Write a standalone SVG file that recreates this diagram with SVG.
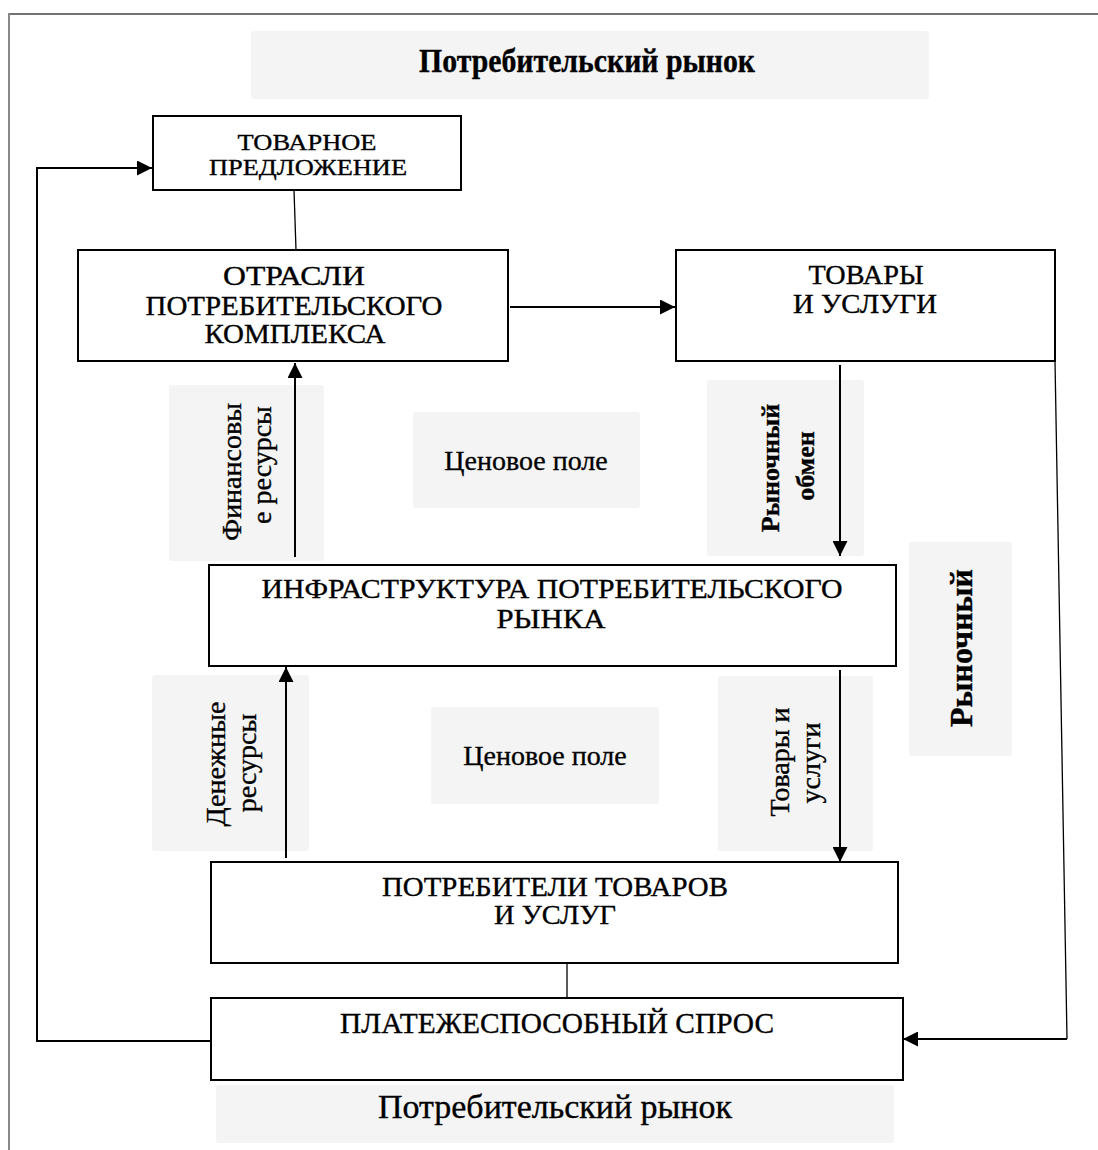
<svg xmlns="http://www.w3.org/2000/svg" width="1098" height="1150" viewBox="0 0 1098 1150">
<style>
.box{fill:#fff;stroke:#000;stroke-width:2}
.lbl{fill:#f4f4f4}
.t{font-family:"Liberation Serif","Times New Roman",serif;fill:#000;stroke:#000;stroke-width:0.35}
.c{text-anchor:middle}
.ln{fill:none;stroke:#000;stroke-width:2}
.thin{fill:none;stroke:#000;stroke-width:1.3}
</style>
<defs>
<marker id="ah" viewBox="0 0 15 15" refX="15" refY="7.5" markerWidth="15" markerHeight="15" markerUnits="userSpaceOnUse" orient="auto">
<path d="M0,0 L15,7.5 L0,15 z" fill="#000"/>
</marker>
</defs>
<rect width="1098" height="1150" fill="#fff"/>
<g id="frame">
<line x1="9" y1="14" x2="1098" y2="14" stroke="#444" stroke-width="1.6"/>
<line x1="9" y1="13" x2="9" y2="1150" stroke="#888" stroke-width="2"/>
</g>
<g id="title-top">
<rect class="lbl" x="251" y="31" width="678" height="68" rx="3"/>
<text class="t c" x="587" y="72" font-size="33" font-weight="bold" textLength="336" lengthAdjust="spacingAndGlyphs">Потребительский рынок</text>
</g>
<g id="labels">
<g id="lbl-fin">
<rect class="lbl" x="169" y="385" width="155" height="176" rx="3"/>
<text class="t c" font-size="28" transform="translate(241,472) rotate(-90)">Финансовы</text>
<text class="t c" font-size="28" transform="translate(271,465) rotate(-90)">е ресурсы</text>
</g>
<g id="lbl-price1">
<rect class="lbl" x="413" y="412" width="227" height="96" rx="3"/>
<text class="t c" x="526" y="470" font-size="28">Ценовое поле</text>
</g>
<g id="lbl-exch">
<rect class="lbl" x="707" y="380" width="157" height="176" rx="3"/>
<text class="t c" font-size="26" font-weight="bold" transform="translate(779,468) rotate(-90)">Рыночный</text>
<text class="t c" font-size="26" font-weight="bold" transform="translate(814,466) rotate(-90)">обмен</text>
</g>
<g id="lbl-market">
<rect class="lbl" x="909" y="542" width="103" height="214" rx="3"/>
<text class="t c" font-size="32" font-weight="bold" transform="translate(972,648) rotate(-90)">Рыночный</text>
</g>
<g id="lbl-money">
<rect class="lbl" x="152" y="675" width="157" height="176" rx="3"/>
<text class="t c" font-size="28" transform="translate(225,764) rotate(-90)">Денежные</text>
<text class="t c" font-size="28" transform="translate(256,763) rotate(-90)">ресурсы</text>
</g>
<g id="lbl-price2">
<rect class="lbl" x="431" y="707" width="228" height="97" rx="3"/>
<text class="t c" x="545" y="765" font-size="28">Ценовое поле</text>
</g>
<g id="lbl-goods">
<rect class="lbl" x="718" y="676" width="155" height="175" rx="3"/>
<text class="t c" font-size="28" transform="translate(789,762) rotate(-90)">Товары и</text>
<text class="t c" font-size="28" transform="translate(820,763) rotate(-90)">услуги</text>
</g>
</g>
<g id="connectors">
<polyline class="ln" points="210,1041 37,1041 37,168 152,168" marker-end="url(#ah)"/>
<line class="thin" x1="294" y1="190" x2="296" y2="250"/>
<line class="ln" x1="510" y1="307" x2="675" y2="307" marker-end="url(#ah)"/>
<polyline class="thin" points="1055,361 1067,1039"/>
<line class="ln" x1="1067" y1="1039" x2="903" y2="1039" marker-end="url(#ah)"/>
<line class="ln" x1="295" y1="557" x2="295" y2="363" marker-end="url(#ah)"/>
<line class="ln" x1="840" y1="365" x2="840" y2="556" marker-end="url(#ah)"/>
<line class="ln" x1="286" y1="858" x2="286" y2="667" marker-end="url(#ah)"/>
<line class="ln" x1="840" y1="670" x2="840" y2="862" marker-end="url(#ah)"/>
<line class="thin" x1="567" y1="963" x2="567" y2="998"/>
</g>
<g id="n-offer">
<rect class="box" x="153" y="116" width="308" height="74"/>
<text class="t c" x="307" y="150" font-size="24" textLength="139" lengthAdjust="spacingAndGlyphs">ТОВАРНОЕ</text>
<text class="t c" x="308" y="175" font-size="24" textLength="198" lengthAdjust="spacingAndGlyphs">ПРЕДЛОЖЕНИЕ</text>
</g>
<g id="n-industry">
<rect class="box" x="78" y="250" width="430" height="111"/>
<text class="t c" x="294" y="285" font-size="27" textLength="142" lengthAdjust="spacingAndGlyphs">ОТРАСЛИ</text>
<text class="t c" x="294" y="315" font-size="27" textLength="297" lengthAdjust="spacingAndGlyphs">ПОТРЕБИТЕЛЬСКОГО</text>
<text class="t c" x="295" y="343" font-size="27" textLength="181" lengthAdjust="spacingAndGlyphs">КОМПЛЕКСА</text>
</g>
<g id="n-goods">
<rect class="box" x="676" y="250" width="379" height="111"/>
<text class="t c" x="866" y="284" font-size="27" textLength="115" lengthAdjust="spacingAndGlyphs">ТОВАРЫ</text>
<text class="t c" x="865" y="313" font-size="27" textLength="144" lengthAdjust="spacingAndGlyphs">И УСЛУГИ</text>
</g>
<g id="n-infra">
<rect class="box" x="209" y="565" width="687" height="101"/>
<text class="t c" x="552" y="598" font-size="27" textLength="581" lengthAdjust="spacingAndGlyphs">ИНФРАСТРУКТУРА ПОТРЕБИТЕЛЬСКОГО</text>
<text class="t c" x="551" y="628" font-size="27" textLength="109" lengthAdjust="spacingAndGlyphs">РЫНКА</text>
</g>
<g id="n-consumers">
<rect class="box" x="211" y="862" width="687" height="101"/>
<text class="t c" x="555" y="896" font-size="27" textLength="346" lengthAdjust="spacingAndGlyphs">ПОТРЕБИТЕЛИ ТОВАРОВ</text>
<text class="t c" x="555" y="924" font-size="27" textLength="122" lengthAdjust="spacingAndGlyphs">И УСЛУГ</text>
</g>
<g id="n-demand">
<rect class="box" x="211" y="998" width="692" height="82"/>
<text class="t c" x="557" y="1033" font-size="29" textLength="434" lengthAdjust="spacingAndGlyphs">ПЛАТЕЖЕСПОСОБНЫЙ СПРОС</text>
</g>
<g id="title-bottom">
<rect class="lbl" x="216" y="1085" width="678" height="58" rx="3"/>
<text class="t c" x="555" y="1118" font-size="33" textLength="354" lengthAdjust="spacingAndGlyphs">Потребительский рынок</text>
</g>
</svg>
